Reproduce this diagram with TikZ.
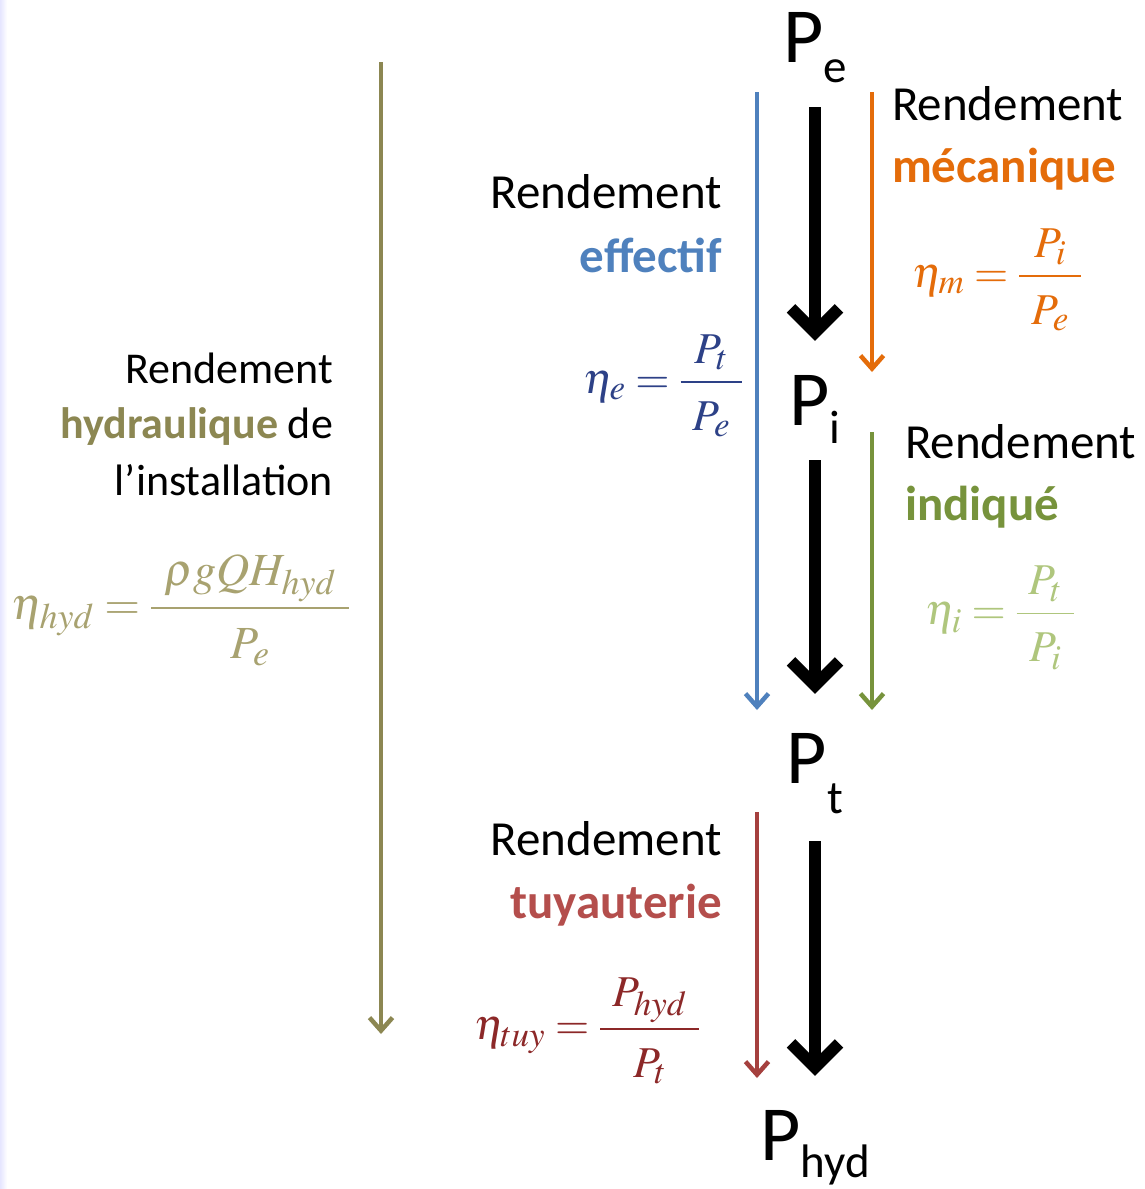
\documentclass[tikz,border=0pt]{standalone}
\usepackage{amsmath}
\usepackage{mathptmx}
\usepackage{fontspec}
\setmainfont{Carlito}
\usetikzlibrary{arrows.meta}
\DeclareMathSizes{44}{44}{35}{28}
\DeclareMathSizes{46}{46}{36}{29}
\definecolor{cblue}{RGB}{79,129,189}
\definecolor{cbluef}{RGB}{45,65,135}
\definecolor{corange}{RGB}{228,108,10}
\definecolor{cgreen}{RGB}{119,147,60}
\definecolor{cgreenf}{RGB}{175,198,125}
\definecolor{cred}{RGB}{165,64,62}
\definecolor{credt}{RGB}{180,78,76}
\definecolor{credf}{RGB}{140,40,40}
\definecolor{colive}{RGB}{140,135,82}
\definecolor{colivef}{RGB}{168,162,112}
\newcommand\lab{\fontsize{49}{60}\selectfont}
\newcommand\labs{\fontsize{44}{54}\selectfont}
\newcommand\bigP{\fontsize{78}{80}\selectfont}
\newcommand\subP{\fontsize{47}{50}\selectfont}
\newcommand\fm{\fontsize{44}{50}\selectfont}
\newcommand\ff[2]{\dfrac{\mkern5mu#1\mkern5mu}{\lower7pt\hbox{$\displaystyle\mkern5mu#2\mkern5mu$}}}
\begin{document}
\begin{tikzpicture}[x=1pt,y=-1pt,
  txt/.style={inner sep=0pt, outer sep=0pt},
  pl/.style={inner sep=0pt, outer sep=0pt, anchor=base},
  blk/.style={line width=12pt, black, -{Straight Barb[length=24pt,width=48pt]}},
  carr/.style={line width=4.5pt, -{Straight Barb[length=13pt,width=23pt]}},
  frm/.style={inner sep=0pt, outer sep=0pt, anchor=west}]
\useasboundingbox (0,0) rectangle (1145,1189);
\fill[white] (0,0) rectangle (1145,1189);
\fill[left color=blue!10, right color=white] (0,0) rectangle (7,1189);

% power labels
\node[pl] (Pe) at (815,62) {\bigP P\raisebox{-20pt}{\subP e}};
\node[pl] (Pi) at (815,425) {\bigP P\raisebox{-18pt}{\subP i}};
\node[pl] (Pt) at (815,783) {\bigP P\raisebox{-30pt}{\subP t}};
\node[pl] (Ph) at (815,1160) {\bigP P\raisebox{-17pt}{\subP hyd}};

% black arrows
\draw[blk, shorten <=25pt, shorten >=34pt] (Pe) -- (Pi);
\draw[blk, shorten <=17pt, shorten >=39pt] (Pi) -- (Pt);
\draw[blk, shorten <=28pt, shorten >=34pt] (Pt) -- (Ph);

% coloured arrows
\coordinate (b1) at (757,92);   \coordinate (b2) at (757,710);
\coordinate (o1) at (872,92);   \coordinate (o2) at (872,372);
\coordinate (g1) at (872,432);  \coordinate (g2) at (872,710);
\coordinate (r1) at (757,812);  \coordinate (r2) at (757,1078);
\coordinate (h1) at (381,62);   \coordinate (h2) at (381,1034);
\draw[carr, cblue] (b1) -- (b2);
\draw[carr, corange] (o1) -- (o2);
\draw[carr, cgreen] (g1) -- (g2);
\draw[carr, cred] (r1) -- (r2);
\draw[carr, colive] (h1) -- (h2);

% effectif
\node[txt, anchor=base east] (e1) at (722,208) {\lab Rendement};
\node[txt, anchor=base east, text=cblue] (e2) at (722,272) {\lab\bfseries effectif};
\node[frm, text=cbluef] (e3) at (583,386) {\fm$\eta_e=\ff{P_t}{P_e}$};

% mecanique
\node[txt, anchor=base west] (m1) at (892,120) {\lab Rendement};
\node[txt, anchor=base west, text=corange] (m2) at (892,182) {\lab\bfseries mécanique};
\node[frm, text=corange] (m3) at (912,280) {\fm$\eta_m=\ff{P_i}{P_e}$};

% indique
\node[txt, anchor=base west] (i1) at (905,458) {\lab Rendement};
\node[txt, anchor=base west, text=cgreen] (i2) at (905,520) {\lab\bfseries indiqué};
\node[frm, text=cgreenf] (i3) at (925,618) {\fm$\eta_i=\ff{P_t}{P_i}$};

% tuyauterie
\node[txt, anchor=base east] (t1) at (722,855) {\lab Rendement};
\node[txt, anchor=base east, text=credt] (t2) at (722,918) {\lab\bfseries tuyauterie};
\node[frm, text=credf] (t3) at (474,1031) {\fm$\eta_{tuy}=\ff{P_{hyd}}{P_t}$};

% hydraulique
\node[txt, anchor=base east] (h3) at (333,383) {\labs Rendement};
\node[txt, anchor=base east] (h4) at (333,438) {\labs{\bfseries\color{colive}hydraulique} de};
\node[txt, anchor=base east] (h5) at (333,495) {\labs l’installation};
\node[frm, text=colivef] (h6) at (12,610) {\fontsize{46}{50}\selectfont$\eta_{hyd}=\ff{\rho gQH_{hyd}}{P_e}$};
\end{tikzpicture}
\end{document}
